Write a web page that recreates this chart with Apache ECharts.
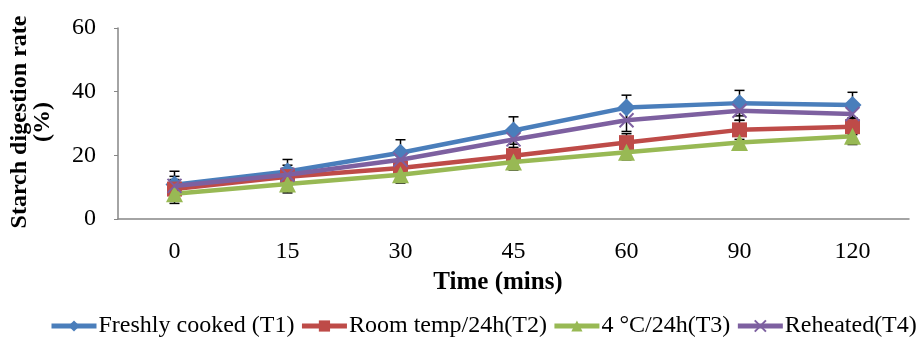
<!DOCTYPE html>
<html>
<head>
<meta charset="utf-8">
<script src="https://cdn.jsdelivr.net/npm/echarts@6/dist/echarts.min.js"></script>
<style>
  html, body { margin: 0; padding: 0; background: #fff; }
  #chart { width: 921px; height: 338px; }
</style>
</head>
<body>
<div id="chart"></div>
<script>
// time points (mins)
var categories = ['0', '15', '30', '45', '60', '90', '120']
var yTicks = [0, 20, 40, 60]

// starch digestion rate (%)
var freshT1 = [10.8, 14.9, 20.8, 27.8, 35.0, 36.4, 35.8]
var roomT2 = [9.4, 13.3, 16.0, 19.9, 24.0, 28.0, 29.0]
var coldT3 = [7.9, 11.0, 13.9, 17.9, 21.0, 24.0, 26.0]
var reheatT4 = [10.4, 13.9, 18.6, 25.0, 31.0, 34.0, 33.0]

// standard deviation (error bars)
var freshErr = [4.2, 3.8, 4.1, 4.3, 3.9, 4.0, 4.0]
var roomErr = [3.0, 2.8, 2.5, 2.6, 2.8, 3.0, 2.5]
var coldErr = [3.0, 2.8, 2.6, 2.5, 2.4, 2.4, 2.6]
var reheatErr = [3.0, 3.0, 3.0, 3.2, 3.5, 3.0, 3.0]

var seriesDefs = [
  { name: 'Freshly cooked (T1)', data: freshT1, err: freshErr, color: '#4A7EBB', symbol: 'diamond', size: 18 },
  { name: 'Room temp/24h(T2)', data: roomT2, err: roomErr, color: '#BE4B48', symbol: 'rect', size: 15 },
  { name: '4 °C/24h(T3)', data: coldT3, err: coldErr, color: '#98B954', symbol: 'triangle', size: 17 },
  { name: 'Reheated(T4)', data: reheatT4, err: reheatErr, color: '#7D60A0', symbol: 'path://M0,0L10,10M10,0L0,10', size: 14 }
]

var font = '"Liberation Serif", "DejaVu Serif", serif'

function errorBars (def) {
  return {
    type: 'custom',
    name: def.name + ' err',
    z: 3,
    silent: true,
    data: def.data.map(function (v, i) { return [i, v - def.err[i], v + def.err[i]] }),
    renderItem: function (params, api) {
      var lo = api.coord([api.value(0), api.value(1)])
      var hi = api.coord([api.value(0), api.value(2)])
      var w = 5
      var style = { stroke: '#000', lineWidth: 1.5 }
      return {
        type: 'group',
        children: [
          { type: 'line', shape: { x1: hi[0], y1: hi[1], x2: lo[0], y2: lo[1] }, style: style },
          { type: 'line', shape: { x1: hi[0] - w, y1: hi[1], x2: hi[0] + w, y2: hi[1] }, style: style },
          { type: 'line', shape: { x1: lo[0] - w, y1: lo[1], x2: lo[0] + w, y2: lo[1] }, style: style }
        ]
      }
    }
  }
}

var chart = echarts.init(document.getElementById('chart'))

var series = []
seriesDefs.forEach(function (def) {
  series.push(errorBars(def))
})
seriesDefs.forEach(function (def, k) {
  series.push({
    name: def.name,
    type: 'line',
    z: 4 + k,
    data: def.data,
    symbol: def.symbol,
    symbolSize: def.size,
    showAllSymbol: true,
    itemStyle: {
      color: def.color,
      borderColor: def.color,
      borderWidth: def.symbol.indexOf('path') === 0 ? 2 : 0
    },
    lineStyle: { color: def.color, width: 4.5 },
    emphasis: { disabled: true }
  })
})

chart.setOption({
  animation: false,
  backgroundColor: '#fff',
  grid: { left: 118, right: 12, top: 28, bottom: 119 },
  legend: {
    data: seriesDefs.map(function (d) { return d.name }),
    bottom: 0,
    left: 44,
    width: 900,
    padding: [0, 5],
    itemWidth: 45,
    itemHeight: 14,
    itemGap: 5,
    lineStyle: { width: 5 },
    textStyle: { fontFamily: font, fontSize: 24, color: '#000', padding: [0, 0, 0, -3] }
  },
  xAxis: {
    type: 'category',
    data: categories,
    boundaryGap: true,
    axisLine: { lineStyle: { color: '#868686', width: 1.5 } },
    axisTick: { show: false },
    axisLabel: { color: '#000', fontFamily: font, fontSize: 24, margin: 21 }
  },
  yAxis: {
    type: 'value',
    min: yTicks[0],
    max: yTicks[yTicks.length - 1],
    interval: 20,
    splitLine: { show: false },
    axisLine: { show: true, lineStyle: { color: '#868686', width: 1.5 } },
    axisTick: { show: true, length: 4, lineStyle: { color: '#868686' } },
    axisLabel: { color: '#000', fontFamily: font, fontSize: 24, margin: 22 }
  },
  graphic: [
    {
      type: 'text',
      x: 498,
      y: 283,
      style: { text: 'Time (mins)', font: 'bold 25px ' + font, fill: '#000', align: 'center', verticalAlign: 'middle' }
    },
    {
      type: 'text',
      x: 31,
      y: 122,
      rotation: Math.PI / 2,
      style: {
        text: 'Starch digestion rate\n(%)',
        font: 'bold 24px ' + font,
        fill: '#000',
        align: 'center',
        verticalAlign: 'middle',
        lineHeight: 23
      }
    }
  ],
  series: series
})
</script>
</body>
</html>
